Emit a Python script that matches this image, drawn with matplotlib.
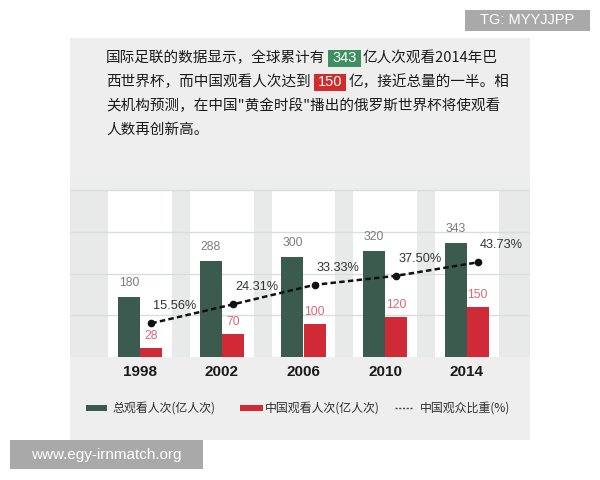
import matplotlib
matplotlib.use('Agg')
import matplotlib.pyplot as plt
from matplotlib.patches import Rectangle
import numpy as np

plt.rcParams['font.family'] = ['Noto Sans CJK SC', 'DejaVu Sans']

# ---------------- data ----------------
years = ['1998', '2002', '2006', '2010', '2014']
total_views = [180, 288, 300, 320, 343]      # 总观看人次(亿人次)
china_views = [28, 70, 100, 120, 150]        # 中国观看人次(亿人次)
china_share = [15.56, 24.31, 33.33, 37.50, 43.73]  # 中国观众比重(%)

legend_labels = ['总观看人次(亿人次)', '中国观看人次(亿人次)', '中国观众比重(%)']

intro_lines = [
    [('国际足联的数据显示，全球累计有', None), ('343', 'green'), ('亿人次观看2014年巴', None)],
    [('西世界杯，而中国观看人次达到', None), ('150', 'red'), ('亿，接近总量的一半。相', None)],
    [('关机构预测，在中国"黄金时段"播出的俄罗斯世界杯将使观看', None)],
    [('人数再创新高。', None)],
]

watermark_top = 'TG: MYYJJPP'
watermark_bottom = 'www.egy-irnmatch.org'

# ---------------- style ----------------
DARK = '#3b5b4f'
RED = '#cf2a35'
HL = {'green': '#3f8f62', 'red': '#d12b2b'}

fig = plt.figure(figsize=(6, 4.8), dpi=100)
fig.patch.set_facecolor('white')

bg = fig.add_axes([0, 0, 1, 1], zorder=0)
bg.set_xlim(0, 600)
bg.set_ylim(480, 0)
bg.axis('off')

# grey panel
bg.add_patch(Rectangle((70, 38), 460, 402, facecolor='#eeeeee', edgecolor='none'))

# intro text, chained piece by piece
fig.canvas.draw()
renderer = fig.canvas.get_renderer()
line_y = [58, 82, 106, 130]
for pieces, y in zip(intro_lines, line_y):
    x = 106
    for txt, hl in pieces:
        if hl is None:
            t = bg.text(x, y, txt, fontsize=10.5, color='#1a1a1a', va='center', ha='left',
                        fontweight='medium')
            ext = t.get_window_extent(renderer)
            x = ext.x1
        else:
            x += 3
            t = bg.text(x + 4, y, txt, fontsize=10.5, color='white', va='center', ha='left',
                        family=['Liberation Sans', 'DejaVu Sans'], zorder=3)
            ext = t.get_window_extent(renderer)
            w = ext.x1 - ext.x0
            bg.add_patch(Rectangle((x, y - 8.5), w + 8, 17, facecolor=HL[hl], edgecolor='none', zorder=2))
            x = x + w + 8 + 2

# legend
bg.add_patch(Rectangle((86, 405), 21, 6, facecolor=DARK, edgecolor='none'))
bg.text(112, 408, legend_labels[0], fontsize=8.6, color='#2e2e2e', va='center', ha='left',
        fontweight='medium')
bg.add_patch(Rectangle((240, 405), 23, 6, facecolor=RED, edgecolor='none'))
bg.text(265, 408, legend_labels[1], fontsize=8.6, color='#2e2e2e', va='center', ha='left',
        fontweight='medium')
bg.plot([395, 412], [408, 408], color='#444444', lw=1, ls=(0, (1.5, 1.2)))
bg.text(420, 408, legend_labels[2], fontsize=8.6, color='#2e2e2e', va='center', ha='left',
        fontweight='medium')

# watermarks
bg.add_patch(Rectangle((465, 10), 125, 21, facecolor='#a9a9a9', edgecolor='none'))
bg.text(527.5, 20.5, watermark_top, fontsize=10.5, color='white', va='center', ha='center',
        family=['Liberation Sans', 'DejaVu Sans'])
bg.add_patch(Rectangle((10, 440), 193, 29, facecolor='#a9a9a9', edgecolor='none'))
bg.text(106.5, 454.5, watermark_bottom, fontsize=11, color='white', va='center', ha='center',
        family=['Liberation Sans', 'DejaVu Sans'])

# ---------------- chart ----------------
px_left, px_right, px_top, px_base = 70, 530, 175, 357
ax = fig.add_axes([px_left / 600, (480 - px_base) / 480, (px_right - px_left) / 600,
                   (px_base - px_top) / 480], zorder=1)
ax.set_facecolor('#e7eae9')
unit_px = 0.3324
ymax = (px_base - px_top) / unit_px
ax.set_ylim(0, ymax)
spacing = 81.6
ax.set_xlim((px_left - 140.3) / spacing, (px_right - 140.3) / spacing)
for s in ax.spines.values():
    s.set_visible(False)

x = np.arange(len(years))
bw = 0.27
panel_top = (px_base - 190) / unit_px
# lighter band above the white columns
ax.axhspan(panel_top, ymax, facecolor='#eceeed', edgecolor='none', zorder=0.4)
for xi in x:
    ax.axvspan(xi - 0.39, xi + 0.39, ymin=0, ymax=panel_top / ymax, facecolor='white',
               edgecolor='none', zorder=0.5)
for gy in [125, 250, 375, panel_top]:
    ax.axhline(gy, color='#d9dedc', lw=1, zorder=0.8)

ax.bar(x - bw / 2, total_views, width=bw, color=DARK, zorder=2)
ax.bar(x + bw / 2, china_views, width=bw, color=RED, zorder=2)

for xi, v in zip(x, total_views):
    ax.annotate(str(v), (xi - bw / 2, v), xytext=(0, 14), textcoords='offset pixels',
                ha='center', va='center', fontsize=8.8, color='#7d7d7d',
                family=['Liberation Sans', 'DejaVu Sans'])
for xi, v in zip(x, china_views):
    ax.annotate(str(v), (xi + bw / 2, v), xytext=(0, 12), textcoords='offset pixels',
                ha='center', va='center', fontsize=8.8, color='#d86a76',
                family=['Liberation Sans', 'DejaVu Sans'])

ax.set_yticks([])
ax.set_xticks(x)
ax.set_xticklabels(years, fontsize=11, fontweight='bold', color='#1a1a1a',
                   family=['Liberation Sans', 'DejaVu Sans'])
ax.tick_params(axis='x', length=0, pad=6)

ax2 = ax.twinx()
ax2.set_ylim(0, (px_base - px_top) / 2.165)
ax2.axis('off')
ax2.plot(x + bw / 2, china_share, color='#111111', lw=1.8, dashes=(2.2, 1.3),
         marker='o', ms=4.5, zorder=3)
for xi, v in zip(x, china_share):
    ax2.annotate(f'{v:.2f}%', (xi + bw / 2, v), xytext=(2, 17), textcoords='offset pixels',
                 ha='left', va='center', fontsize=9.2, color='#333333',
                 family=['Liberation Sans', 'DejaVu Sans'])

fig.savefig('out.png', dpi=100)
